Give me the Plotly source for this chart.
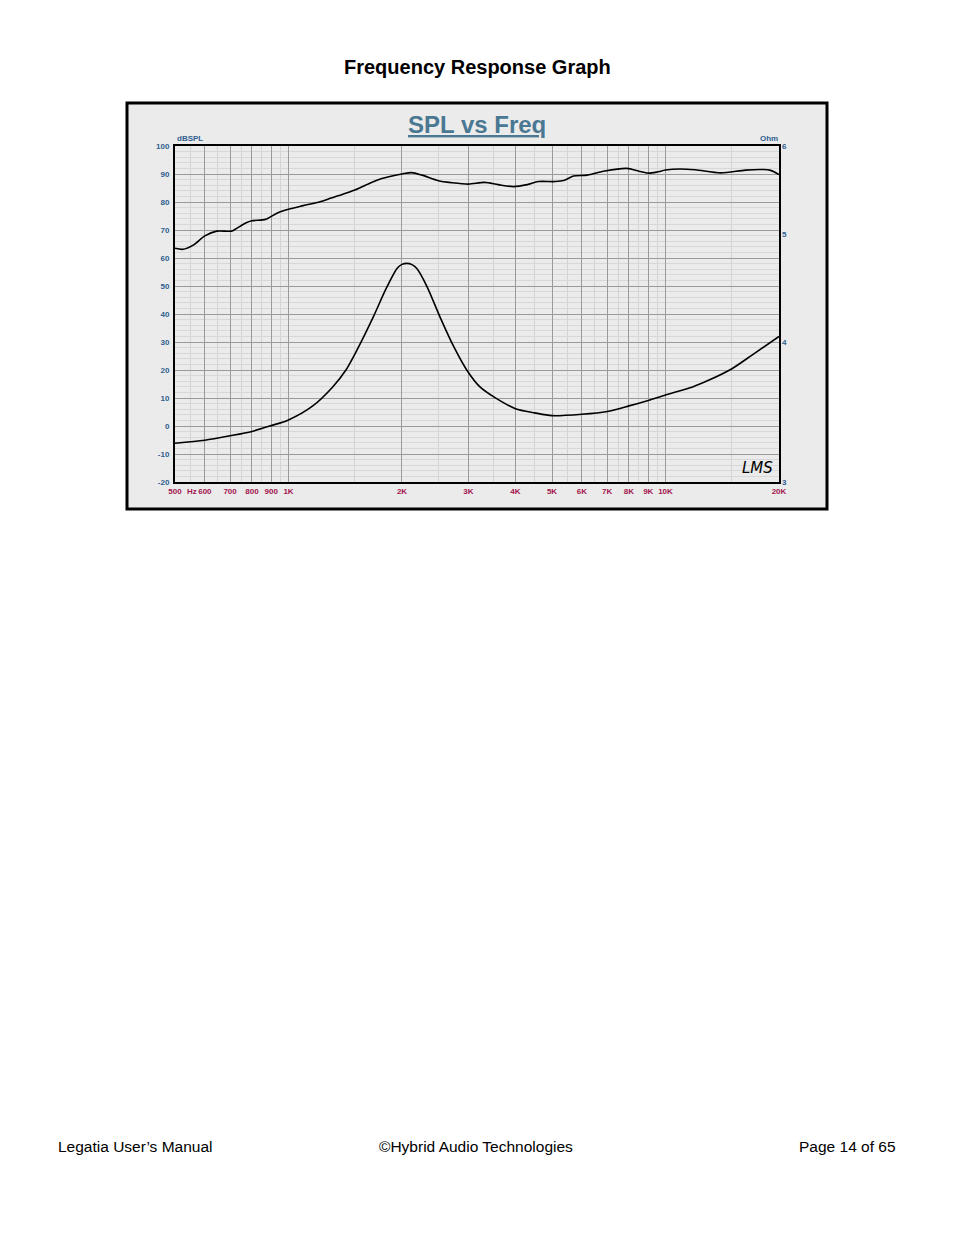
import plotly.graph_objects as go
import math

# ---- data ----
spl_freq = [500, 525, 559, 600, 645, 707, 729, 770, 800, 869, 932, 1000, 1094, 1212, 1290,
            1360, 1500, 1660, 1760, 1870, 2000, 2120, 2260, 2500, 2710, 3000, 3310, 3600,
            3950, 4300, 4600, 5100, 5400, 5700, 6200, 6900, 7900, 8500, 9000, 9500, 10000,
            10900, 12000, 14000, 16300, 18200, 19000, 20000]
spl_db = [63.5, 63.1, 64.6, 67.9, 69.6, 69.6, 70.6, 72.5, 73.3, 73.8, 76.0, 77.4, 78.7, 80.1, 81.3,
          82.3, 84.3, 87.0, 88.3, 89.2, 90.0, 90.5, 89.6, 87.6, 86.9, 86.4, 87.0, 86.2,
          85.5, 86.2, 87.3, 87.3, 87.8, 89.3, 89.6, 91.1, 92.0, 91.0, 90.3, 90.7, 91.4,
          91.8, 91.5, 90.4, 91.4, 91.6, 91.3, 89.8]

imp_freq = [500, 600, 700, 800, 900, 1000, 1160, 1310, 1420, 1520, 1680, 1815, 1940, 2000,
            2060, 2120, 2190, 2330, 2520, 2740, 2970, 3220, 3530, 4000, 4500, 5000, 6000,
            7000, 8000, 9000, 10000, 11800, 13000, 15000, 17000, 20000]
imp_ohm = [3.25, 3.27, 3.30, 3.33, 3.37, 3.41, 3.51, 3.65, 3.78, 3.94, 4.22, 4.47, 4.66, 4.70,
           4.71, 4.70, 4.66, 4.49, 4.22, 3.97, 3.78, 3.65, 3.57, 3.49, 3.46, 3.44, 3.45,
           3.47, 3.51, 3.55, 3.59, 3.65, 3.70, 3.79, 3.90, 4.05]

x_major = [500, 600, 700, 800, 900, 1000, 2000, 3000, 4000, 5000, 6000, 7000, 8000, 9000, 10000, 20000]
x_labels = ["500", "600", "700", "800", "900", "1K", "2K", "3K", "4K", "5K", "6K", "7K", "8K", "9K", "10K", "20K"]
x_minor = [550, 650, 750, 850, 950, 1500, 2500, 3500, 4500, 5500, 6500, 7500, 8500, 9500, 15000]
y_major = list(range(-20, 101, 10))
y_labels = [str(v) for v in y_major]
ohm_ticks = [3, 4, 5, 6]

W, H = 954, 1235
OFF = 8  # page body margin offset
px = lambda v: (v - OFF) / W
py = lambda v: 1 - (v - OFF) / H

BLUE = "#2f5f8f"
RED = "#a3164f"

fig = go.Figure()
fig.add_trace(go.Scatter(x=spl_freq, y=spl_db, mode="lines", line=dict(color="black", width=1.6, shape="spline", smoothing=0.8),
                         showlegend=False, hoverinfo="skip"))
fig.add_trace(go.Scatter(x=imp_freq, y=imp_ohm, mode="lines", yaxis="y2",
                         line=dict(color="black", width=1.6, shape="spline", smoothing=0.8),
                         showlegend=False, hoverinfo="skip"))

fig.update_layout(
    width=W, height=H, margin=dict(l=0, r=0, t=0, b=0, pad=0, autoexpand=False),
    paper_bgcolor="white", plot_bgcolor="white",
    font=dict(family="Liberation Sans, Arial, sans-serif"),
    xaxis=dict(type="log", domain=[px(175), px(779)], automargin=False,
               range=[math.log10(500), math.log10(20000)],
               tickvals=x_major, ticktext=x_labels, showgrid=True, gridcolor="#9a9a9a", gridwidth=1,
               minor=dict(tickvals=x_minor, showgrid=True, gridcolor="#d4d4d4", gridwidth=1, ticks=""),
               tickfont=dict(size=8, color=RED, weight="bold"), ticks="", ticklabelstandoff=0,
               showline=True, linecolor="black", linewidth=2, mirror=True, zeroline=False),
    yaxis=dict(domain=[py(482), py(146)], range=[-20, 100], tickvals=y_major, ticktext=y_labels,
               automargin=False,
               showgrid=True, gridcolor="#9a9a9a", gridwidth=1,
               minor=dict(dtick=2, showgrid=True, gridcolor="#d8d8d8", gridwidth=1, ticks=""),
               tickfont=dict(size=8, color=BLUE, weight="bold"), ticks="", ticklabelstandoff=2,
               showline=True, linecolor="black", linewidth=2, mirror=True, zeroline=False),
    yaxis2=dict(type="log", overlaying="y", side="right", range=[math.log10(3), math.log10(6)],
                automargin=False,
                tickvals=ohm_ticks, ticktext=[str(t) for t in ohm_ticks], showgrid=False,
                tickfont=dict(size=8, color=BLUE, weight="bold"), ticks="", ticklabelstandoff=2,
                zeroline=False, showline=False),
    shapes=[dict(type="rect", xref="paper", yref="paper", x0=px(127), x1=px(827), y0=py(509), y1=py(103),
                 fillcolor="#ebebeb", line=dict(color="black", width=3), layer="below")],
)

ann = [
    dict(text="<b>Frequency Response Graph</b>", x=px(477), y=py(67), font=dict(size=20, color="black")),
    dict(text="<b><u>SPL vs Freq</u></b>", x=px(477), y=py(125), font=dict(size=24, color="#4a7892")),
    dict(text="<b>dBSPL</b>", x=px(175), y=py(139), xanchor="left", font=dict(size=8, color=BLUE)),
    dict(text="<b>Ohm</b>", x=px(780), y=py(139), xanchor="right", font=dict(size=8, color=BLUE)),
    dict(text="<b>Hz</b>", x=px(199), y=py(491), xanchor="right", font=dict(size=8, color=RED)),
    dict(text="<i>LMS</i>", x=px(757), y=py(468), font=dict(size=15, color="black", family="DejaVu Sans")),
    dict(text="Legatia User\u2019s Manual", x=px(56), y=py(1146), xanchor="left", font=dict(size=15.5, color="black")),
    dict(text="\u00a9Hybrid Audio Technologies", x=px(476), y=py(1146), font=dict(size=15.5, color="black")),
    dict(text="Page 14 of 65", x=px(898), y=py(1146), xanchor="right", font=dict(size=15.5, color="black")),
]
for a in ann:
    a.setdefault("xanchor", "center")
    fig.add_annotation(xref="paper", yref="paper", showarrow=False, yanchor="middle", **a)

fig.write_html("out.html")
